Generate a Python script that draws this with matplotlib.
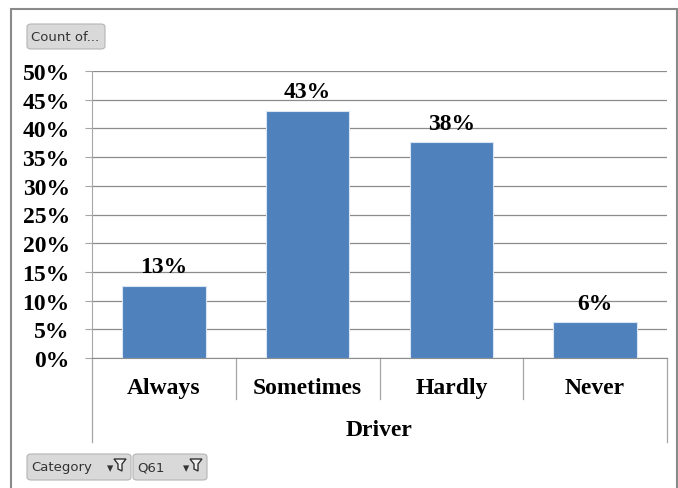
import matplotlib.pyplot as plt
from matplotlib.patches import FancyBboxPatch, Rectangle, Polygon

categories = ["Always", "Sometimes", "Hardly", "Never"]
shares = [0.126, 0.431, 0.376, 0.062]
y_ticks = [0, 0.05, 0.10, 0.15, 0.20, 0.25, 0.30, 0.35, 0.40, 0.45, 0.50]
axis_title = "Driver"

W, H = 678, 489
bar_color = "#4F81BD"
grid_color = "#8C8C8C"
serif = ["Liberation Serif", "DejaVu Serif"]
fsize = 17


def fx(px):
    return px / W


def fy(py):
    return 1 - py / H


fig = plt.figure(figsize=(W / 100, H / 100), dpi=100)
fig.patch.set_facecolor("white")

# outer chart frame
fig.patches.append(Rectangle((fx(11), fy(500)), fx(666), fy(10) - fy(500),
                             transform=fig.transFigure, fill=False,
                             edgecolor="#8A8A8A", lw=1.5))

ax = fig.add_axes([fx(92), fy(359), fx(667) - fx(92), fy(72) - fy(359)])
x = list(range(len(categories)))
ax.bar(x, shares, width=0.58, color=bar_color, edgecolor="#DCE6F2", lw=0.8, zorder=3)

for xi, v in zip(x, shares):
    ax.annotate(f"{v:.0%}", (xi, v), xytext=(0, 6), textcoords="offset points",
                ha="center", va="bottom", fontsize=fsize, fontweight="bold",
                family=serif, zorder=4)

ax.set_xlim(-0.5, len(categories) - 0.5)
ax.set_ylim(0, 0.5)
ax.set_yticks(y_ticks)
ax.set_yticklabels([f"{t:.0%}" for t in y_ticks], fontsize=fsize,
                   fontweight="bold", family=serif)
ax.yaxis.grid(True, color=grid_color, lw=0.9, zorder=0)
ax.tick_params(axis="y", length=5, color="#A6A6A6", pad=11)
ax.tick_params(axis="x", length=0, pad=14)
ax.set_xticks(x)
ax.set_xticklabels(categories, fontsize=fsize, fontweight="bold", family=serif)
for s in ["top", "right"]:
    ax.spines[s].set_visible(False)
ax.spines["left"].set_color("#A6A6A6")
ax.spines["bottom"].set_color(grid_color)

# category separators and the box around the axis title
trans = ax.get_xaxis_transform()
for xs in [0.5, 1.5, 2.5]:
    ax.plot([xs, xs], [0, -0.143], color="#A6A6A6", lw=0.9,
            transform=trans, clip_on=False)
for xs in [-0.5, 3.5]:
    ax.plot([xs, xs], [0, -0.293], color="#A6A6A6", lw=0.9,
            transform=trans, clip_on=False)

ax.text(1.5, -0.248, axis_title, transform=trans, ha="center", va="center",
        fontsize=fsize, fontweight="bold", family=serif)


def field_button(x0, y0, x1, y1, label, funnel=False):
    box = FancyBboxPatch((fx(x0), fy(y1)), fx(x1 - x0), fy(y0) - fy(y1),
                         boxstyle="round,pad=0,rounding_size=0.006",
                         transform=fig.transFigure, facecolor="#D9D9D9",
                         edgecolor="#B4B4B4", lw=0.8)
    fig.patches.append(box)
    fig.text(fx(x0 + 4), fy((y0 + y1) / 2), label, ha="left", va="center",
             fontsize=9.5, color="#333333", family=["DejaVu Sans"])
    if funnel:
        fx0 = x1 - 16
        fig.text(fx(fx0 - 5), fy((y0 + y1) / 2 + 1), "▾", ha="center",
                 va="center", fontsize=9, color="#333333")
        pts = [(fx0 - 1, y0 + 5), (fx0 + 11, y0 + 5), (fx0 + 7, y0 + 10),
               (fx0 + 7, y0 + 17), (fx0 + 3, y0 + 15), (fx0 + 3, y0 + 10)]
        fig.patches.append(Polygon([(fx(a), fy(b)) for a, b in pts],
                                   transform=fig.transFigure, facecolor="#F0F0F0",
                                   edgecolor="#333333", lw=1.0))


field_button(27, 25, 105, 50, "Count of...")
field_button(27, 455, 131, 481, "Category", funnel=True)
field_button(133, 455, 207, 481, "Q61", funnel=True)

fig.savefig("out.png", dpi=100)
